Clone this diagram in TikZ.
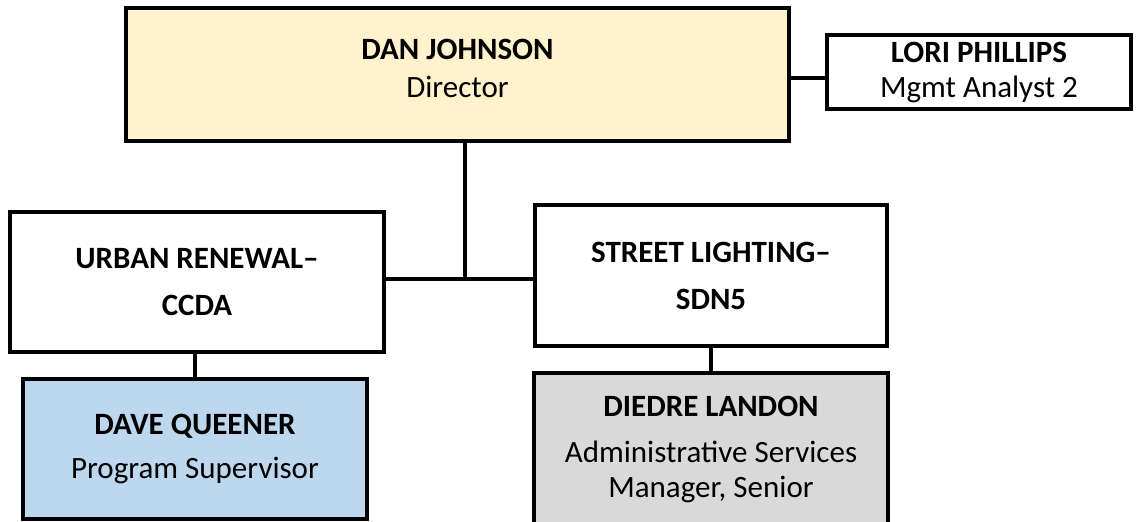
\documentclass[tikz,border=0pt]{standalone}
\usepackage{fontspec}
\setmainfont{Carlito}
\usetikzlibrary{positioning}
\definecolor{dirfill}{HTML}{FFF2CC}
\definecolor{supfill}{HTML}{BDD7EE}
\definecolor{mgrfill}{HTML}{D9D9D9}
\tikzset{orgbox/.style={rectangle, draw=black, line width=4pt, align=center, inner sep=0pt,
    font=\fontsize{31}{35}\selectfont},
  orgline/.style={line width=4pt}}

\begin{document}
\begin{tikzpicture}[x=1pt, y=-1pt]
  \clip (0,0) rectangle (1138,522);
  \node[orgbox, fill=dirfill, minimum width=663pt, minimum height=133pt, text depth=13pt] (dir) at (457.5,74.5)
    {\textbf{DAN JOHNSON}\\[3pt]Director};
  \node[orgbox, fill=white, minimum width=304pt, minimum height=74pt] (lori) at (979,72)
    {\textbf{LORI PHILLIPS}\\Mgmt Analyst 2};
  \node[orgbox, fill=white, minimum width=374pt, minimum height=140pt] (urban) at (197,282)
    {\textbf{URBAN RENEWAL–}\\[12pt]\textbf{CCDA}};
  \node[orgbox, fill=white, minimum width=352pt, minimum height=141pt] (street) at (711,275.5)
    {\textbf{STREET LIGHTING–}\\[12pt]\textbf{SDN5}};
  \node[orgbox, fill=supfill, minimum width=344pt, minimum height=140pt] (dave) at (195,449)
    {\textbf{DAVE QUEENER}\\[9pt]Program Supervisor};
  \node[orgbox, fill=mgrfill, minimum width=354pt, minimum height=152pt] (diedre) at (711,449)
    {\textbf{DIEDRE LANDON}\\[11pt]Administrative Services\\Manager, Senior};
  \coordinate (jn) at (465,279);
  % reporting lines
  \draw[orgline] ([yshift=-6pt]lori.west) -- ([yshift=-6pt]lori.west -| dir.east);
  \draw[orgline] (dir.south -| jn) -- (jn);
  \draw[orgline] (urban.east |- jn) -- (street.west |- jn);
  \draw[orgline] (urban.south -| dave.north) -- (dave.north);
  \draw[orgline] (street.south) -- (diedre.north);
\end{tikzpicture}
\end{document}
